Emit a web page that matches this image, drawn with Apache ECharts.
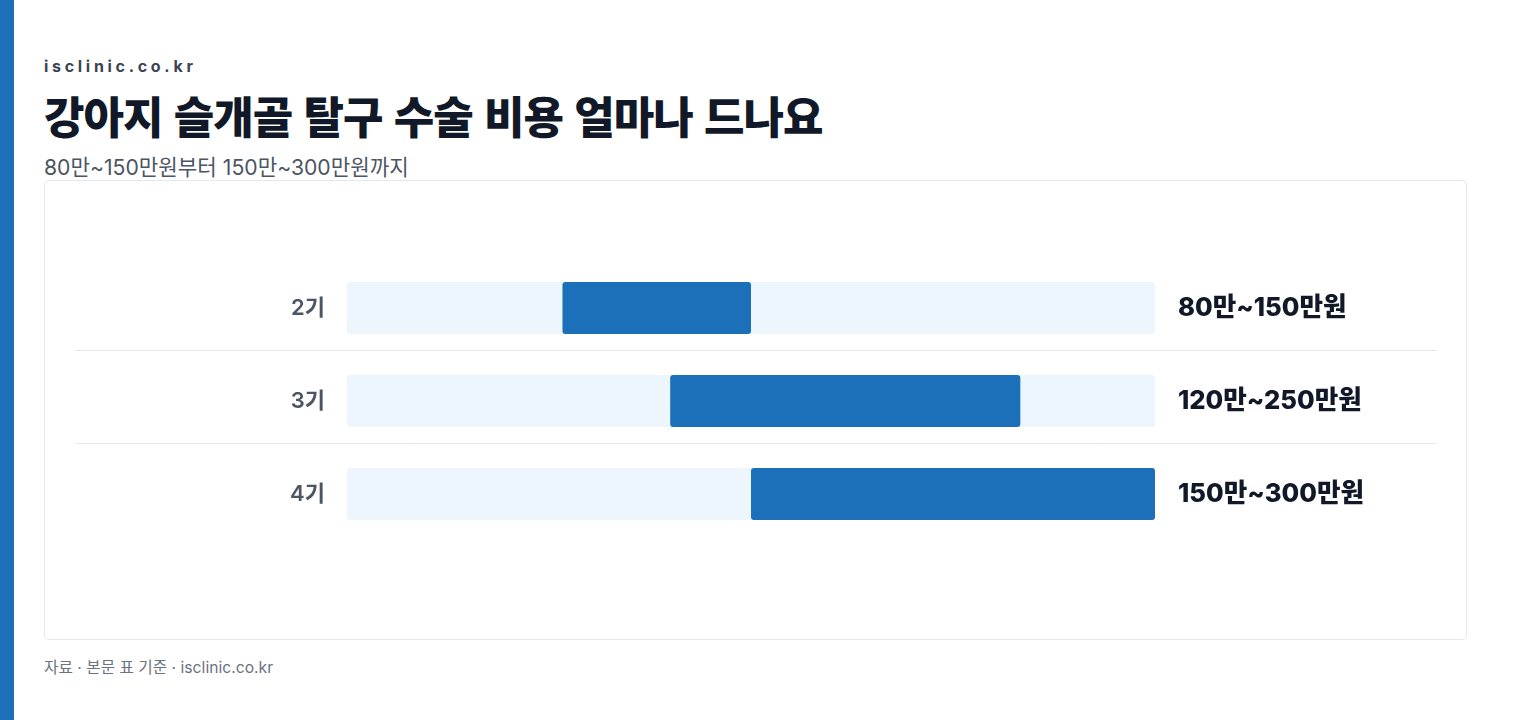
<!DOCTYPE html>
<html lang="ko">
<head>
<meta charset="utf-8">
<script src="https://cdn.jsdelivr.net/npm/echarts@6/dist/echarts.min.js"></script>
<style>
  html, body { margin: 0; padding: 0; background: #fff; }
  body { width: 1536px; height: 720px; position: relative; overflow: hidden;
         font-family: Inter, "Noto Sans CJK KR", sans-serif; }
  .stripe { position: absolute; left: 0; top: 0; width: 14px; height: 720px; background: #1d6fb8; }
  .brand { position: absolute; left: 44px; top: 56px; font-size: 16px; font-weight: 700;
           letter-spacing: 3.7px; color: #3b4452; }
  .title { position: absolute; left: 44px; top: 83px; font-size: 44px; font-weight: 800;
           letter-spacing: -1px; color: #111827; font-family: "Noto Sans CJK KR", sans-serif; }
  .sub { position: absolute; left: 44px; top: 150px; font-size: 21.2px; color: #4b5563; }
  .card { position: absolute; left: 44px; top: 180px; width: 1421px; height: 458px;
          border: 1px solid #e5e7eb; border-radius: 5px; }
  #chart { width: 1421px; height: 458px; }
  .foot { position: absolute; left: 44px; top: 655px; font-size: 15.7px; color: #6b7280; }
</style>
</head>
<body>
<div class="stripe"></div>
<div class="brand">isclinic.co.kr</div>
<div class="title">강아지 슬개골 탈구 수술 비용 얼마나 드나요</div>
<div class="sub">80만~150만원부터 150만~300만원까지</div>
<div class="card"><div id="chart"></div></div>
<div class="foot">자료 · 본문 표 기준 · isclinic.co.kr</div>
<script>
// 단위: 만원
const categories = ['2기', '3기', '4기'];
const lows = [80, 120, 150];
const highs = [150, 250, 300];
const scaleMax = 300;

const rangeLabels = lows.map((lo, i) => `${lo}만~${highs[i]}만원`);
const spans = highs.map((hi, i) => hi - lows[i]);
const tracks = categories.map(() => scaleMax);

const myChart = echarts.init(document.getElementById('chart'));
const option = {
  animation: false,
  grid: [
    { left: 302, right: 311, top: 80.5, bottom: 98.5 },
    // 구분선 전용
    { left: 30, right: 29, top: 169, height: 93 }
  ],
  xAxis: [
    { type: 'value', gridIndex: 0, min: 0, max: scaleMax, show: false },
    { type: 'value', gridIndex: 1, min: 0, max: 1, show: false }
  ],
  yAxis: [
    {
      type: 'category', gridIndex: 0, data: categories, inverse: true,
      axisLine: { show: false }, axisTick: { show: false }, splitLine: { show: false },
      axisLabel: { margin: 22, fontSize: 22, fontWeight: 600, color: '#4b5563',
                   padding: [2, 0, 0, 0], fontFamily: 'Inter, "Noto Sans CJK KR"' }
    },
    {
      type: 'category', gridIndex: 0, data: rangeLabels, inverse: true, position: 'right',
      axisLine: { show: false }, axisTick: { show: false }, splitLine: { show: false },
      axisLabel: { margin: 23, fontSize: 25.6, fontWeight: 800, color: '#111827',
                   align: 'left', padding: [3, 0, 0, 0], fontFamily: 'Inter, "Noto Sans CJK KR"' }
    },
    {
      type: 'value', gridIndex: 1, min: 0, max: 1, interval: 1,
      axisLine: { show: false }, axisTick: { show: false }, axisLabel: { show: false },
      splitLine: { show: true, lineStyle: { color: '#e5e7eb', width: 1 } }
    }
  ],
  series: [
    {
      name: 'track', type: 'bar', xAxisIndex: 0, yAxisIndex: 0, data: tracks,
      barWidth: 52, barGap: '-100%', silent: true, z: 1,
      itemStyle: { color: '#eef6fd', borderRadius: 3 }
    },
    {
      name: 'base', type: 'bar', stack: 'range', xAxisIndex: 0, yAxisIndex: 0, data: lows,
      barWidth: 52, barGap: '-100%', silent: true, z: 2,
      itemStyle: { color: 'transparent' }
    },
    {
      name: '비용', type: 'bar', stack: 'range', xAxisIndex: 0, yAxisIndex: 0, data: spans,
      barWidth: 52, barGap: '-100%', z: 3,
      itemStyle: { color: '#1c6fb9', borderRadius: 3 }
    }
  ]
};
myChart.setOption(option);
</script>
</body>
</html>
